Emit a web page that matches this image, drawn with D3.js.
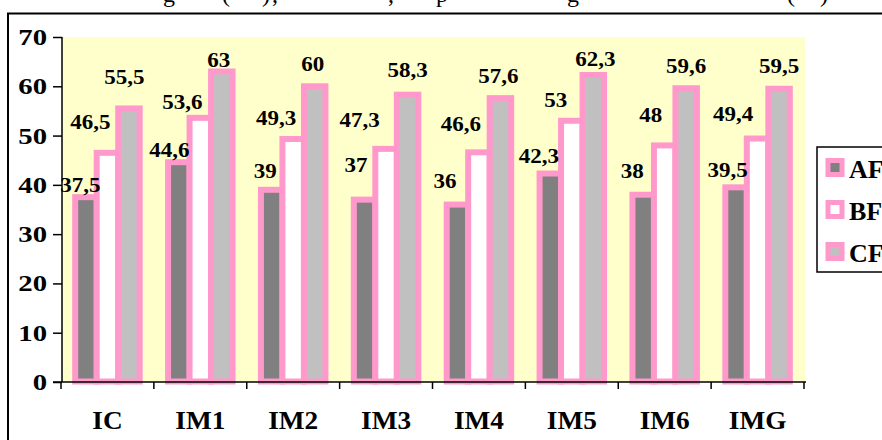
<!DOCTYPE html>
<html>
<head>
<meta charset="utf-8">
<script src="https://cdn.jsdelivr.net/npm/d3@7/dist/d3.min.js"></script>
<style>
  html, body { margin: 0; padding: 0; background: #ffffff; }
  svg { display: block; }
  text { font-family: "Liberation Serif", "Times New Roman", serif; }
</style>
</head>
<body>
<svg id="chart" width="882" height="440"></svg>
<script>
// ---- data ----
const categories = ["IC", "IM1", "IM2", "IM3", "IM4", "IM5", "IM6", "IMG"];
const seriesNames = ["AF", "BF", "CF"];
const afValues = [37.5, 44.6, 39, 37, 36, 42.3, 38, 39.5];
const bfValues = [46.5, 53.6, 49.3, 47.3, 46.6, 53, 48, 49.4];
const cfValues = [55.5, 63, 60, 58.3, 57.6, 62.3, 59.6, 59.5];
const yTicks = [0, 10, 20, 30, 40, 50, 60, 70];

// descender fragments of the caption line above the frame
const captionGlyphs = ["g", "(", ")", ",", ",", "p", "g", "(", ")"];

// ---- layout ----
const seriesFill = ["#808080", "#ffffff", "#c0c0c0"];
const pink = "#ff99cc";
const plot = { left: 62, right: 805, top: 37, bottom: 382 };
const barW = 21.5;
const barStroke = 6;

// hand-placed data label nudges: [dx from bar centre, gap above bar top]
const labelNudge = [
  [[-5.5, 5], [-9.5, 5], [-6.5, 12], [-8.5, 28], [-12.5, 16.6], [-11.5, 10.8], [-11, 16.4], [-8.5, 10.6]],
  [[-17, 24], [-18, 9], [-17, 14], [-26.5, 22], [-18, 21.6], [-16, 14], [-14, 23.7], [-24.5, 17.8]],
  [[-4.5, 24.5], [-3, 4.5], [-2, 15.6], [0, 17.4], [-2, 15.4], [2, 9.2], [0, 15], [0, 15.4]]
];
const captionX = [163, 222, 262, 272, 388, 436, 567, 787, 820];

const series = [afValues, bfValues, cfValues];
const svg = d3.select("#chart");

const x = d3.scaleBand().domain(categories).range([61, 804]).padding(0);
const y = d3.scaleLinear().domain([0, 70]).range([plot.bottom, plot.top]);
const xSub = d3.scaleBand().domain(seriesNames).range([-1.5 * barW, 1.5 * barW]).padding(0);

// text with a horizontal stretch, anchored at (px, py)
function stretchedText(sel, px, py, str, size, sx, anchor) {
  return sel.append("text")
    .attr("transform", `translate(${px},${py}) scale(${sx},1)`)
    .attr("text-anchor", anchor)
    .attr("font-size", size)
    .attr("font-weight", "bold")
    .attr("fill", "#000")
    .text(str);
}

// caption line, cut off at the top edge
svg.append("g").selectAll("text")
  .data(captionGlyphs)
  .join("text")
  .attr("x", (d, i) => captionX[i])
  .attr("y", 2)
  .attr("font-size", 24)
  .attr("fill", "#000")
  .text(d => d);

// outer frame (continues past the right and bottom edges)
svg.append("rect")
  .attr("x", 8).attr("y", 13.5)
  .attr("width", 900).attr("height", 460)
  .attr("fill", "#ffffff")
  .attr("stroke", "#000").attr("stroke-width", 2);

// plot background
svg.append("rect")
  .attr("x", plot.left).attr("y", plot.top)
  .attr("width", plot.right - plot.left).attr("height", plot.bottom - plot.top)
  .attr("fill", "#ffffcc");

// y axis
const yAxis = svg.append("g").attr("transform", `translate(${plot.left},0)`)
  .call(d3.axisLeft(y).tickValues(yTicks).tickSize(9).tickFormat(""));
yAxis.select(".domain").attr("stroke", "#000").attr("stroke-width", 1.5)
  .attr("d", `M0,${plot.top}V${plot.bottom}`);
yAxis.selectAll(".tick line").attr("stroke", "#000").attr("stroke-width", 1.5);
yTicks.forEach(t => stretchedText(svg, 47, y(t) + 8, String(t), 23, 1.25, "end"));

// bars
const groups = svg.append("g").selectAll("g")
  .data(categories)
  .join("g")
  .attr("transform", c => `translate(${x(c) + x.bandwidth() / 2},0)`);

groups.selectAll("rect")
  .data((c, ci) => seriesNames.map((s, si) => ({ s, si, v: series[si][ci] })))
  .join("rect")
  .attr("x", d => xSub(d.s))
  .attr("y", d => y(d.v))
  .attr("width", xSub.bandwidth())
  .attr("height", d => y(0) - 0.5 - y(d.v))
  .attr("fill", d => seriesFill[d.si])
  .attr("stroke", pink)
  .attr("stroke-width", barStroke);

// x axis
const xAxis = svg.append("g").attr("transform", `translate(0,${plot.bottom})`)
  .call(d3.axisBottom(x).tickSize(0).tickFormat(""));
xAxis.select(".domain").attr("stroke", "#000").attr("stroke-width", 1.5)
  .attr("d", `M${plot.left - 9},0H${plot.right + 1}`);
xAxis.selectAll(".tick").remove();
const bounds = categories.map(c => x(c)).concat([x.range()[1]]);
svg.append("g").selectAll("line")
  .data(bounds)
  .join("line")
  .attr("x1", d => d).attr("x2", d => d)
  .attr("y1", plot.bottom).attr("y2", plot.bottom + 7)
  .attr("stroke", "#000").attr("stroke-width", 1.5);
categories.forEach(c => stretchedText(svg, x(c) + x.bandwidth() / 2, 429, c, 26, 1.05, "middle"));

// data labels
const fmt = v => String(v).replace(".", ",");
categories.forEach((c, ci) => {
  seriesNames.forEach((s, si) => {
    const v = series[si][ci];
    const [dx, gap] = labelNudge[si][ci];
    const cx = x(c) + x.bandwidth() / 2 + xSub(s) + xSub.bandwidth() / 2;
    stretchedText(svg, cx + dx, y(v) - gap, fmt(v), 20, 1.15, "middle");
  });
});

// legend (box runs past the right edge)
const legend = svg.append("g");
legend.append("rect")
  .attr("x", 817).attr("y", 147)
  .attr("width", 120).attr("height", 125)
  .attr("fill", "#ffffff")
  .attr("stroke", "#000").attr("stroke-width", 1.5);
seriesNames.forEach((s, i) => {
  const cy = 167.5 + i * 42;
  legend.append("rect")
    .attr("x", 828).attr("y", cy - 7)
    .attr("width", 14).attr("height", 14)
    .attr("fill", seriesFill[i])
    .attr("stroke", pink).attr("stroke-width", 5);
  stretchedText(legend, 849, cy + 10, s, 26, 1.0, "start");
});
</script>
</body>
</html>
